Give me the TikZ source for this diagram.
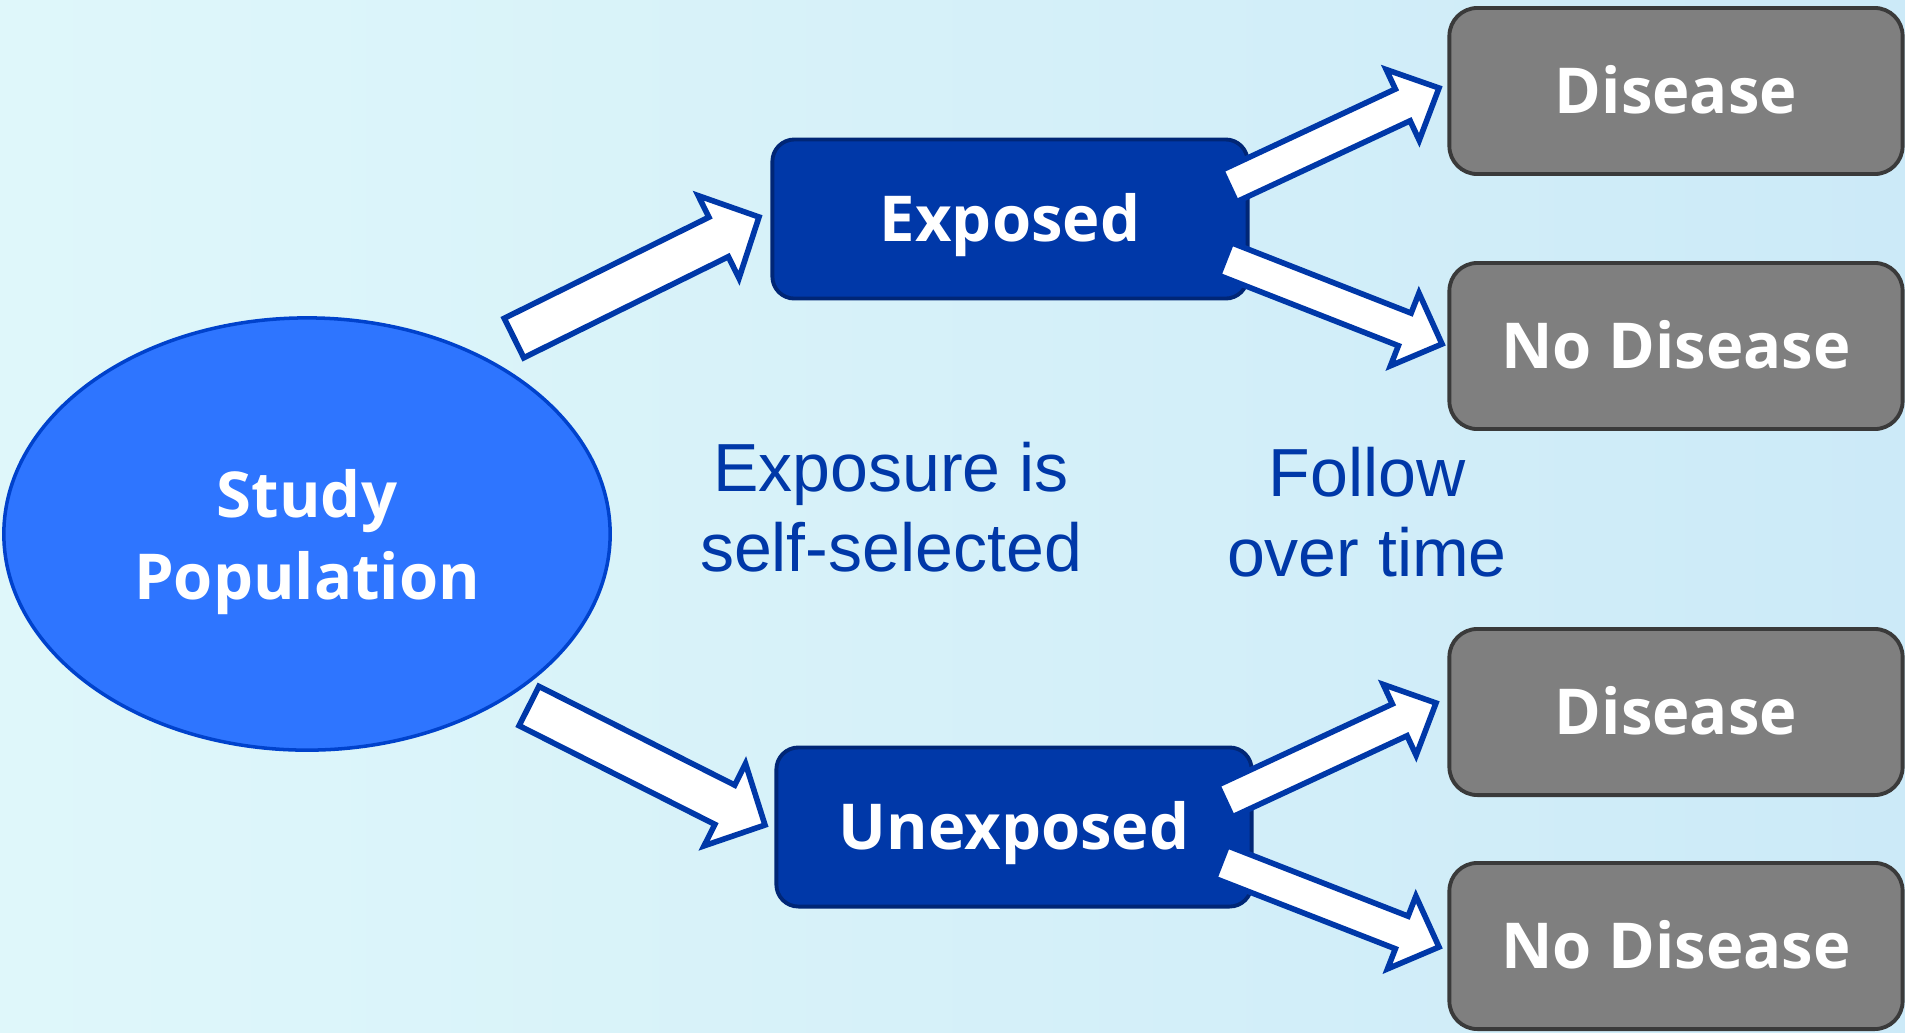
\documentclass[tikz,border=0pt]{standalone}
\usepackage{fontspec}
\setmainfont{Liberation Sans}
\newfontfamily\boxfont{Open Sans}
\usetikzlibrary{shapes.geometric,calc}

\definecolor{bgleft}{RGB}{223,247,250}
\definecolor{bgright}{RGB}{204,234,248}
\definecolor{popfill}{RGB}{46,117,255}
\definecolor{popline}{RGB}{0,66,204}
\definecolor{expfill}{RGB}{0,56,168}
\definecolor{expline}{RGB}{0,38,118}
\definecolor{grayfill}{RGB}{127,127,127}
\definecolor{grayline}{RGB}{58,58,58}
\definecolor{arrowline}{RGB}{0,56,168}

% hollow block arrow: from, to, half shaft, half head, head length (cm)
\newcommand\blockarrow[5]{%
  \coordinate (nk) at ($(#2)!#5cm!(#1)$);
  \draw[blockarrow] ($(#1)!#3cm!90:(#2)$) -- ($(nk)!#3cm!90:(#2)$)
    -- ($(nk)!#4cm!90:(#2)$) -- (#2) -- ($(nk)!#4cm!-90:(#2)$)
    -- ($(nk)!#3cm!-90:(#2)$) -- ($(#1)!#3cm!-90:(#2)$) -- cycle;}

\begin{document}
\begin{tikzpicture}[
x=0.01cm, y=-0.01cm,
pop/.style={
ellipse,
draw=popline,
line width=1pt,
fill=popfill,
text=white,
align=center,
inner sep=0pt,
text depth=0pt,
minimum width=6.06cm,
minimum height=4.32cm,
font=\boxfont\bfseries\fontsize{18}{23.3}\selectfont
},
group/.style={
draw=expline,
line width=1.1pt,
fill=expfill,
text=white,
rounded corners=0.22cm,
minimum width=4.75cm,
minimum height=1.59cm,
text height=13pt,
text depth=0pt,
font=\boxfont\bfseries\fontsize{18}{23.3}\selectfont
},
outcome/.style={
draw=grayline,
line width=1.1pt,
fill=grayfill,
text=white,
rounded corners=0.28cm,
minimum width=4.53cm,
minimum height=1.66cm,
text height=13pt,
text depth=0pt,
font=\boxfont\bfseries\fontsize{18}{23.3}\selectfont
},
note/.style={
text=arrowline,
align=center,
inner sep=0pt,
text depth=0pt,
font=\fontsize{19.35}{22.6}\selectfont
},
blockarrow/.style={
draw=arrowline,
fill=white,
line width=1.6pt,
line join=miter
}
]

\useasboundingbox (0,0) rectangle (1905,1032);
\shade[left color=bgleft, right color=bgright] (0,0) rectangle (1905,1032);

\node[pop] (pop) at (307,534) {Study\\Population};

\node[group] (exp) at (1010,219) {Exposed};
\node[group] (unexp) at (1014,827) {Unexposed};

\node[outcome] (dis1) at (1676,91) {Disease};
\node[outcome] (nodis1) at (1676,346) {No Disease};
\node[outcome] (dis2) at (1676,712) {Disease};
\node[outcome] (nodis2) at (1676,946) {No Disease};

\node[note] (selfsel) at (891,507) {Exposure is\\self-selected};
\node[note] (follow) at (1367,512) {Follow\\over time};

% arrow ends
\coordinate (pop-e) at (514,338);
\coordinate (exp-w) at (759,217);
\coordinate (pop-u) at (529,706);
\coordinate (unexp-w) at (765,825);
\coordinate (exp-d) at (1229,186);
\coordinate (dis1-w) at (1439,88);
\coordinate (exp-n) at (1225,259);
\coordinate (nodis1-w) at (1442,344);
\coordinate (unexp-d) at (1225,801);
\coordinate (dis2-w) at (1436,703);
\coordinate (unexp-n) at (1221,862);
\coordinate (nodis2-w) at (1439,947);

\blockarrow{pop-e}{exp-w}{.22}{.46}{.45}
\blockarrow{pop-u}{unexp-w}{.22}{.46}{.45}

\blockarrow{exp-d}{dis1-w}{.175}{.39}{.40}
\blockarrow{exp-n}{nodis1-w}{.175}{.39}{.40}
\blockarrow{unexp-d}{dis2-w}{.175}{.39}{.40}
\blockarrow{unexp-n}{nodis2-w}{.175}{.39}{.40}

\end{tikzpicture}
\end{document}
